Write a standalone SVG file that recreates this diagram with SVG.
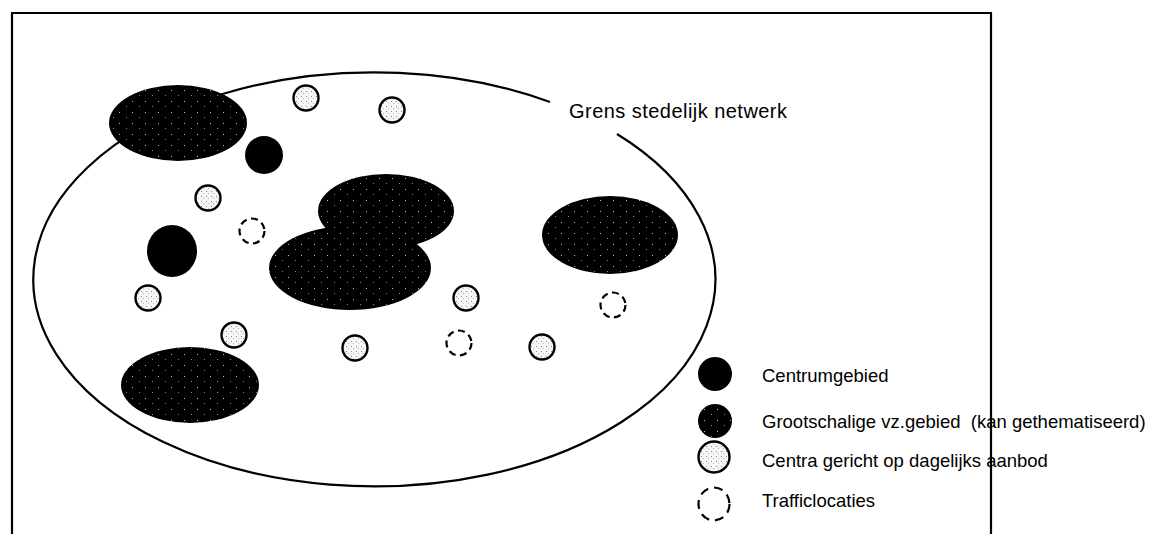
<svg xmlns="http://www.w3.org/2000/svg" width="1149" height="534" viewBox="0 0 1149 534">
<style>
.frame{stroke:#000;stroke-width:2.2;fill:none}
.bound{stroke:#000;stroke-width:2.2;fill:none}
.big{fill:url(#dark)}
.cen{fill:#000}
.cd{fill:url(#light);stroke:#000;stroke-width:2.4}
.tr{fill:none;stroke:#000;stroke-width:2.2;stroke-dasharray:7 4.5}
.trl{fill:none;stroke:#000;stroke-width:2.2;stroke-dasharray:9 6}
.t{font-family:"Liberation Sans",Arial,sans-serif;font-size:18.5px;fill:#000}
.title{font-family:"Liberation Sans",Arial,sans-serif;font-size:20px;fill:#000}
</style>
<defs>
<pattern id="dark" width="13" height="11" patternUnits="userSpaceOnUse">
<rect width="13" height="11" fill="#000"/>
<rect x="2" y="2" width="1" height="1" fill="#bbb"/>
<rect x="9" y="7" width="1" height="1" fill="#888"/>
</pattern>
<pattern id="light" width="5" height="5" patternUnits="userSpaceOnUse">
<rect width="5" height="5" fill="#f6f6f6"/>
<rect x="1" y="1" width="1" height="1" fill="#888"/>
<rect x="3" y="3" width="1" height="1" fill="#bbb"/>
</pattern>
</defs>
<rect width="1149" height="534" fill="#fff"/>
<g id="frame">
<path class="frame" d="M11 13 H992 M12 13 V534"/>
</g>
<g id="boundary">
<path class="bound" d="M550 102 A341 207 0 1 0 617 134"/>
<text class="title" x="569" y="118" textLength="218">Grens stedelijk netwerk</text>
</g>
<g id="grootschalig">
<ellipse class="big" cx="178" cy="123" rx="69" ry="38"/>
<ellipse class="big" cx="386" cy="211" rx="68" ry="37"/>
<ellipse class="big" cx="350" cy="268" rx="81" ry="42"/>
<ellipse class="big" cx="610" cy="235" rx="68" ry="39"/>
<ellipse class="big" cx="190" cy="385" rx="69" ry="38"/>
</g>
<g id="centrum">
<circle class="cen" cx="264" cy="155" r="19"/>
<ellipse class="cen" cx="172" cy="251" rx="25" ry="26"/>
</g>
<g id="centra">
<circle class="cd" cx="306" cy="98" r="12.5"/>
<circle class="cd" cx="392" cy="110" r="12.5"/>
<circle class="cd" cx="208" cy="198" r="12.5"/>
<circle class="cd" cx="148" cy="298" r="12.5"/>
<circle class="cd" cx="234" cy="335" r="12.5"/>
<circle class="cd" cx="355" cy="348" r="12.5"/>
<circle class="cd" cx="466" cy="298" r="12.5"/>
<circle class="cd" cx="542" cy="347" r="12.5"/>
</g>
<g id="traffic">
<circle class="tr" cx="252" cy="231" r="12.5"/>
<circle class="tr" cx="613" cy="305" r="12.5"/>
<circle class="tr" cx="459" cy="343" r="12.5"/>
</g>
<g id="legend">
<circle class="cen" cx="715" cy="374" r="17"/>
<text class="t" x="762" y="382">Centrumgebied</text>
<circle class="big" cx="715" cy="421" r="17"/>
<text class="t" x="762" y="428" style="white-space:pre">Grootschalige vz.gebied  (kan gethematiseerd)</text>
<circle class="cd" cx="714" cy="457" r="15.5"/>
<text class="t" x="762" y="467">Centra gericht op dagelijks aanbod</text>
<ellipse class="trl" cx="714" cy="504" rx="15.5" ry="16.5"/>
<text class="t" x="762" y="507">Trafficlocaties</text>
</g>
<g id="frame-right">
<path class="frame" d="M991 13 V534"/>
</g>
</svg>
